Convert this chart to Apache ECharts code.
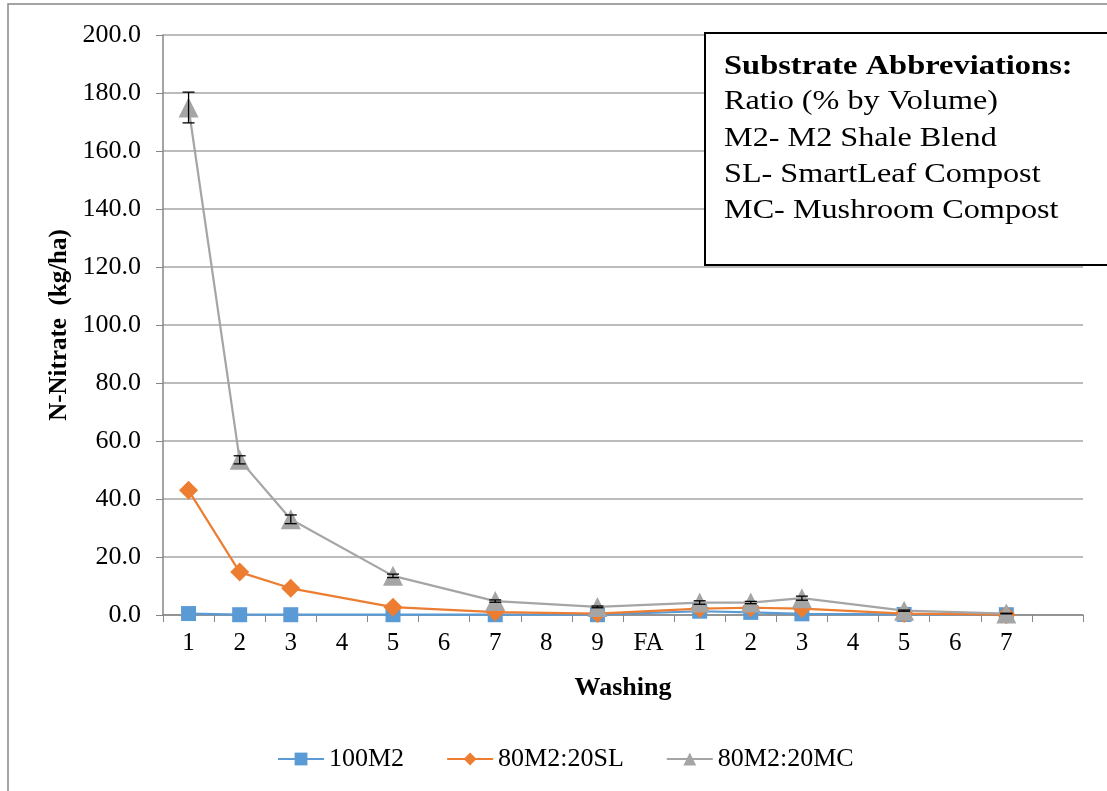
<!DOCTYPE html>
<html>
<head>
<meta charset="utf-8">
<script src="https://cdn.jsdelivr.net/npm/echarts@6/dist/echarts.min.js"></script>
<style>
  html, body { margin: 0; padding: 0; background: #fff; }
  #chart { width: 1107px; height: 791px; }
</style>
</head>
<body>
<div id="chart"></div>
<script>
// washing events (last slot is an empty category, as in the original)
const categories = ['1', '2', '3', '4', '5', '6', '7', '8', '9', 'FA', '1', '2', '3', '4', '5', '6', '7', ''];
const yTicks = [0, 20, 40, 60, 80, 100, 120, 140, 160, 180, 200];

const m2 = [0.5, 0.1, 0.1, null, 0.1, null, 0.1, null, 0.1, null, 1.3, 0.9, 0.4, null, 0.2, null, 0.1, null];
const sl = [43.0, 14.8, 9.2, null, 2.7, null, 1.0, null, 0.5, null, 2.2, 2.5, 2.2, null, 0.5, null, 0.1, null];
const mc = [175.0, 53.5, 33.0, null, 13.5, null, 4.8, null, 2.8, null, 4.3, 4.3, 5.8, null, 1.5, null, 0.5, null];
// standard error for the MC series
const mcErr = [5.3, 1.4, 1.5, null, 0.6, null, 0.4, null, 0.3, null, 0.6, 0.4, 0.7, null, 0.2, null, 0.1, null];

const noteLines = ['Ratio (% by Volume)', 'M2- M2 Shale Blend', 'SL- SmartLeaf Compost', 'MC- Mushroom Compost'];

const serif = '"Liberation Serif", "DejaVu Serif", serif';

const errData = [];
mc.forEach((v, i) => {
  if (v != null && mcErr[i] != null) errData.push([i, v - mcErr[i], v + mcErr[i]]);
});

// text box in the top right corner
const noteGraphic = [
  {
    type: 'rect',
    shape: { x: 705, y: 33, width: 420, height: 232 },
    style: { fill: '#fff', stroke: '#000', lineWidth: 2 },
    z: 50
  },
  {
    type: 'text',
    x: 724, y: 67, scaleX: 1.16, z: 51,
    style: { x: 0, y: 0, text: 'Substrate Abbreviations:', font: 'bold 28px ' + serif, fill: '#000', verticalAlign: 'middle' }
  }
];
noteLines.forEach((t, i) => {
  noteGraphic.push({
    type: 'text',
    x: 724, y: 102 + i * 36.3, scaleX: 1.15, z: 51,
    style: { x: 0, y: 0, text: t, font: '28px ' + serif, fill: '#000', verticalAlign: 'middle' }
  });
});

const chart = echarts.init(document.getElementById('chart'));
chart.setOption({
  animation: false,
  backgroundColor: '#fff',
  textStyle: { fontFamily: serif },
  grid: { left: 163, right: 24, top: 35, bottom: 176 },
  legend: {
    top: 741,
    left: 272,
    itemWidth: 46,
    itemHeight: 16,
    itemGap: 42,
    textStyle: { fontFamily: serif, fontSize: 26, color: '#000' },
    data: ['100M2', '80M2:20SL', '80M2:20MC']
  },
  xAxis: {
    type: 'category',
    data: categories,
    boundaryGap: true,
    name: 'Washing',
    nameLocation: 'middle',
    nameGap: 60,
    nameTextStyle: { fontFamily: serif, fontSize: 26, fontWeight: 'bold', color: '#000' },
    axisLine: { lineStyle: { color: '#868686', width: 1.5 } },
    axisTick: { show: true, length: 7, lineStyle: { color: '#868686' } },
    axisLabel: { interval: 0, margin: 16, fontFamily: serif, fontSize: 25, color: '#000' },
    splitLine: { show: false }
  },
  yAxis: {
    type: 'value',
    min: 0,
    max: 200,
    interval: 20,
    name: 'N-Nitrate  (kg/ha)',
    nameLocation: 'middle',
    nameGap: 91,
    nameTextStyle: { fontFamily: serif, fontSize: 25, fontWeight: 'bold', color: '#000' },
    axisLine: { show: true, lineStyle: { color: '#868686', width: 1.5 } },
    axisTick: { show: true, length: 7, lineStyle: { color: '#868686' } },
    axisLabel: {
      margin: 22,
      fontFamily: serif,
      fontSize: 26,
      color: '#000',
      formatter: v => yTicks.includes(v) ? v.toFixed(1) : ''
    },
    splitLine: { show: true, lineStyle: { color: '#a6a6a6', width: 1.5 } }
  },
  series: [
    {
      name: '100M2',
      type: 'line',
      data: m2,
      connectNulls: true,
      symbol: 'rect',
      symbolSize: 15,
      color: '#5b9bd5',
      lineStyle: { width: 2.2, color: '#5b9bd5' },
      itemStyle: { color: '#5b9bd5' },
      z: 3
    },
    {
      name: '80M2:20SL',
      type: 'line',
      data: sl,
      connectNulls: true,
      symbol: 'diamond',
      symbolSize: 19,
      color: '#ed7d31',
      lineStyle: { width: 2.2, color: '#ed7d31' },
      itemStyle: { color: '#ed7d31' },
      z: 4
    },
    {
      name: '80M2:20MC',
      type: 'line',
      data: mc,
      connectNulls: true,
      symbol: 'triangle',
      symbolSize: 20,
      color: '#a5a5a5',
      lineStyle: { width: 2.2, color: '#a5a5a5' },
      itemStyle: { color: '#a5a5a5' },
      z: 5
    },
    {
      name: 'err',
      type: 'custom',
      data: errData,
      z: 6,
      silent: true,
      renderItem: (params, api) => {
        const lo = api.coord([api.value(0), api.value(1)]);
        const hi = api.coord([api.value(0), api.value(2)]);
        const w = 6;
        const style = { stroke: '#000', lineWidth: 1.3 };
        return {
          type: 'group',
          children: [
            { type: 'line', shape: { x1: hi[0], y1: hi[1], x2: lo[0], y2: lo[1] }, style },
            { type: 'line', shape: { x1: hi[0] - w, y1: hi[1], x2: hi[0] + w, y2: hi[1] }, style },
            { type: 'line', shape: { x1: lo[0] - w, y1: lo[1], x2: lo[0] + w, y2: lo[1] }, style }
          ]
        };
      }
    }
  ],
  graphic: [
    {
      type: 'rect',
      shape: { x: 8, y: 4, width: 1200, height: 900 },
      style: { fill: 'none', stroke: '#868686', lineWidth: 1.5 },
      z: -10
    }
  ].concat(noteGraphic)
});
</script>
</body>
</html>
